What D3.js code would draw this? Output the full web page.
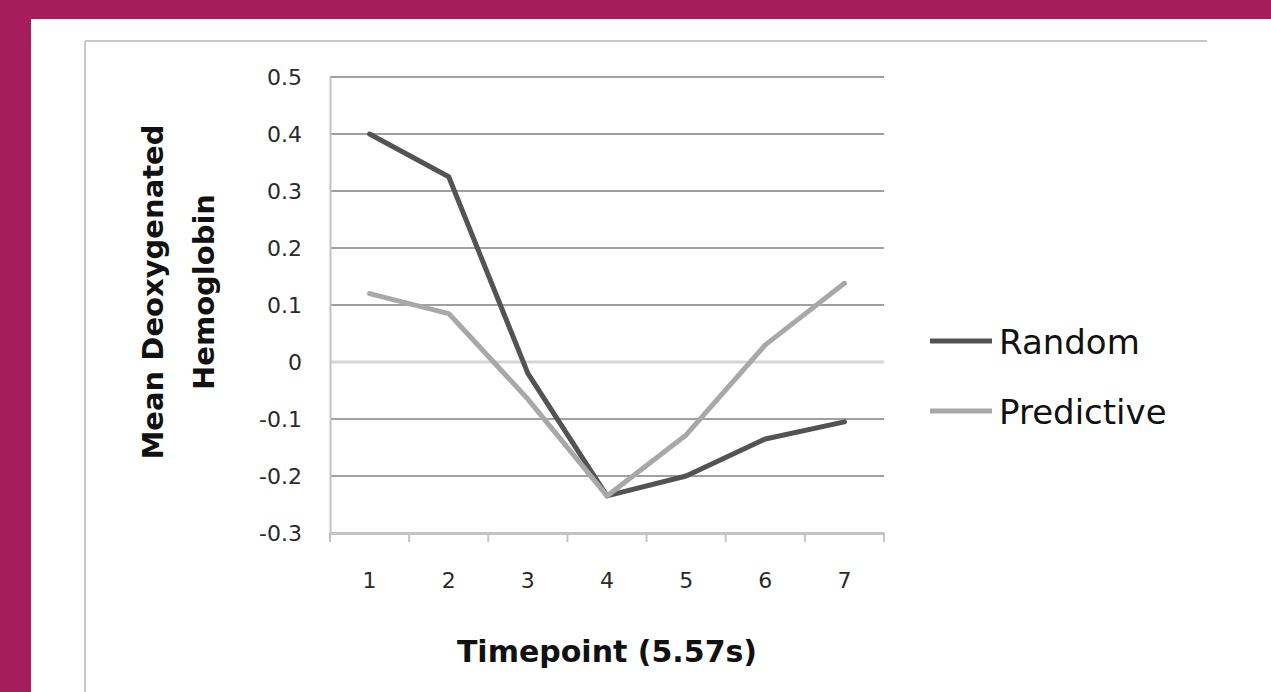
<!DOCTYPE html>
<html>
<head>
<meta charset="utf-8">
<script src="https://cdn.jsdelivr.net/npm/d3@7"></script>
<style>
  html, body { margin: 0; padding: 0; background: #ffffff; }
  svg { display: block; }
</style>
</head>
<body>
<svg id="chart" width="1271" height="692"></svg>
<script>
// ---- Data ----
const timepoints = [1, 2, 3, 4, 5, 6, 7];
const randomValues = [0.40, 0.325, -0.02, -0.235, -0.20, -0.135, -0.105];
const predictiveValues = [0.12, 0.085, -0.065, -0.235, -0.128, 0.03, 0.138];
const yTicks = [0.5, 0.4, 0.3, 0.2, 0.1, 0, -0.1, -0.2, -0.3];
const seriesNames = ["Random", "Predictive"];
const seriesColors = ["#535353", "#a8a8a8"];
const xTitle = "Timepoint (5.57s)";
const yTitleLines = ["Mean Deoxygenated", "Hemoglobin"];

const series = [
  { name: seriesNames[0], values: randomValues, color: seriesColors[0] },
  { name: seriesNames[1], values: predictiveValues, color: seriesColors[1] }
];

const svg = d3.select("#chart");
const W = 1271, H = 692;

// slide background: magenta frame
svg.append("rect").attr("x", 0).attr("y", 0).attr("width", W).attr("height", H).attr("fill", "#a51d5a");
svg.append("rect").attr("x", 31).attr("y", 19).attr("width", W - 31).attr("height", H - 19).attr("fill", "#ffffff");

// chart area border (top + left visible)
svg.append("line").attr("x1", 85).attr("x2", 1207).attr("y1", 41).attr("y2", 41)
  .attr("stroke", "#c8c8c8").attr("stroke-width", 2);
svg.append("line").attr("x1", 85).attr("x2", 85).attr("y1", 41).attr("y2", H)
  .attr("stroke", "#c8c8c8").attr("stroke-width", 2);

const font = "'DejaVu Sans', sans-serif";

// scales
const x = d3.scaleBand().domain(timepoints).range([330, 884]).padding(0);
const xc = d => x(d) + x.bandwidth() / 2;
const y = d3.scaleLinear().domain([-0.3, 0.5]).range([533, 77]);

// gridlines
const g = svg.append("g");
g.selectAll("line.grid").data(yTicks.filter(t => t > -0.3)).enter().append("line")
  .attr("class", "grid")
  .attr("x1", 330).attr("x2", 884)
  .attr("y1", d => y(d)).attr("y2", d => y(d))
  .attr("stroke", d => d === 0 ? "#d6d6d6" : "#a0a0a0")
  .attr("stroke-width", d => d === 0 ? 3 : 2);

// y axis
const yAxis = d3.axisLeft(y).tickValues(yTicks).tickSize(0).tickPadding(28)
  .tickFormat(d => d === 0 ? "0" : d3.format(".1f")(d).replace("\u2212", "-"));
const yg = svg.append("g").attr("transform", "translate(330,0)").call(yAxis);
yg.select(".domain").attr("stroke", "#c4c4c4").attr("stroke-width", 2);
yg.selectAll("text").attr("font-family", font).attr("font-size", 22).attr("fill", "#2a2a2a");

// x axis
const xAxis = d3.axisBottom(x).tickSize(0).tickPadding(0);
const xg = svg.append("g").attr("transform", "translate(0,533)").call(xAxis);
xg.select(".domain").attr("stroke", "#c4c4c4").attr("stroke-width", 3);
xg.selectAll(".tick line").remove();
xg.selectAll(".tick text").attr("font-family", font).attr("font-size", 22).attr("fill", "#2a2a2a")
  .attr("dy", 0).attr("y", 55);
// tick marks at category boundaries
const bounds = timepoints.map(d => x(d)).concat([x(timepoints[timepoints.length - 1]) + x.bandwidth()]);
svg.append("g").selectAll("line").data(bounds).enter().append("line")
  .attr("x1", d => d).attr("x2", d => d).attr("y1", 533).attr("y2", 542)
  .attr("stroke", "#c4c4c4").attr("stroke-width", 2);

// lines
const lineGen = d3.line().x((d, i) => xc(timepoints[i])).y(d => y(d));
series.forEach(s => {
  svg.append("path").datum(s.values)
    .attr("d", lineGen)
    .attr("fill", "none")
    .attr("stroke", s.color)
    .attr("stroke-width", 5)
    .attr("stroke-linejoin", "round")
    .attr("stroke-linecap", "round");
});

// legend
const legend = svg.append("g");
series.forEach((s, i) => {
  const ly = 341 + i * 70;
  legend.append("line").attr("x1", 930).attr("x2", 992).attr("y1", ly).attr("y2", ly)
    .attr("stroke", s.color).attr("stroke-width", 5);
  legend.append("text").attr("x", 999).attr("y", ly + 13)
    .attr("font-family", font).attr("font-size", 34).attr("fill", "#111")
    .text(s.name);
});

// axis titles
svg.append("text").attr("x", 607).attr("y", 662).attr("text-anchor", "middle")
  .attr("font-family", font).attr("font-weight", "bold").attr("font-size", 30).attr("fill", "#111")
  .text(xTitle);

const yt = svg.append("text").attr("text-anchor", "middle")
  .attr("transform", "translate(0,292) rotate(-90)")
  .attr("font-family", font).attr("font-weight", "bold").attr("font-size", 29).attr("fill", "#111");
yt.append("tspan").attr("x", 0).attr("y", 163).text(yTitleLines[0]);
yt.append("tspan").attr("x", 0).attr("y", 214).text(yTitleLines[1]);
</script>
</body>
</html>
